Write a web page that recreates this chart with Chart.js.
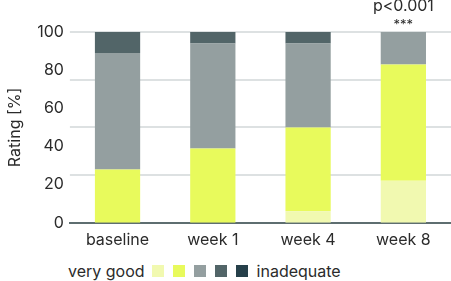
<!DOCTYPE html>
<html>
<head>
<meta charset="utf-8">
<script src="https://cdn.jsdelivr.net/npm/chart.js@4/dist/chart.umd.min.js"></script>
<style>
  body { margin: 0; background: #fff; font-family: Inter, sans-serif; }
  #wrap { position: relative; width: 451px; height: 260px; }
  #legend { position: absolute; left: 68px; top: 261px; height: 19px; display: flex; align-items: center; font-size: 16px; color: #2b2b2b; }
  #legend span.box { display: inline-block; width: 12px; height: 12px; margin-right: 9px; }
  #legend span.txt { margin-right: 7px; }
</style>
</head>
<body>
<div id="wrap"><canvas id="myChart"></canvas></div>
<div id="legend"></div>
<script>
// data
var categories = ["baseline", "week 1", "week 4", "week 8"];
var ratingNames = ["very good", "good", "neutral", "poor", "inadequate"];
var veryGood   = [0, 0, 6, 22];
var good       = [28, 39, 44, 61];
var neutral    = [61, 55, 44, 17];
var poor       = [11, 6, 6, 0];
var inadequate = [0, 0, 0, 0];
var pLabels    = ["", "", "", "p<0.001"];
var starLabels = ["", "", "", "***"];

var colors = ["#f1f9b0", "#e8fa5c", "#949fa0", "#526568", "#26404a"];
var seriesValues = [veryGood, good, neutral, poor, inadequate];

var datasets = [];
for (var i = 0; i < ratingNames.length; i++) {
  datasets.push({
    label: ratingNames[i],
    data: seriesValues[i],
    backgroundColor: colors[i],
    borderWidth: 0,
    barPercentage: 0.475,
    categoryPercentage: 1.0,
    yAxisID: "y"
  });
}

// p-value text over the bars
var sigPlugin = {
  id: "sig",
  afterDatasetsDraw: function(chart) {
    var ctx = chart.ctx;
    var xs = chart.scales.x;
    var ys = chart.scales.y;
    ctx.save();
    ctx.textAlign = "center";
    ctx.fillStyle = "#2b2b2b";
    for (var i = 0; i < categories.length; i++) {
      if (!pLabels[i]) continue;
      var x = xs.getPixelForValue(i);
      var top = ys.getPixelForValue(100);
      ctx.font = "16px Inter, sans-serif";
      ctx.textBaseline = "alphabetic";
      ctx.fillText(pLabels[i], x, top - 21);
      ctx.font = "13px Inter, sans-serif";
      ctx.fillText(starLabels[i], x, top - 3);
    }
    ctx.restore();
  }
};

var ctx = document.getElementById("myChart").getContext("2d");
var mychart = new Chart(ctx, {
  type: "bar",
  data: { labels: categories, datasets: datasets },
  plugins: [sigPlugin],
  options: {
    responsive: true,
    maintainAspectRatio: false,
    animation: false,
    layout: { padding: { top: 32, right: 0, bottom: 2, left: 0 } },
    plugins: { legend: { display: false }, tooltip: { enabled: false } },
    scales: {
      x: {
        stacked: true,
        grid: { display: false, drawTicks: false },
        border: { display: true, color: "#5e6e70", width: 2 },
        ticks: { color: "#2b2b2b", padding: 8, font: { family: "Inter", size: 16 } }
      },
      y: {
        stacked: true,
        min: 0,
        max: 100,
        grid: { display: false, drawTicks: false },
        border: { display: false },
        ticks: { stepSize: 20, color: "#2b2b2b", padding: 6, font: { family: "Inter", size: 16 } },
        title: { display: true, text: "Rating [%]", color: "#2b2b2b", padding: 6, font: { family: "Inter", size: 16 } }
      },
      yGrid: {
        position: "right",
        min: 0,
        max: 100,
        grid: { color: "#dde1e2", lineWidth: 2, drawTicks: false },
        border: { display: false },
        ticks: { display: false, stepSize: 25 }
      }
    }
  }
});

// legend: "very good" [boxes] "inadequate"
var legend = document.getElementById("legend");
var first = document.createElement("span");
first.className = "txt";
first.textContent = ratingNames[0];
legend.appendChild(first);
for (var k = 0; k < colors.length; k++) {
  var b = document.createElement("span");
  b.className = "box";
  b.style.background = colors[k];
  legend.appendChild(b);
}
var last = document.createElement("span");
last.textContent = ratingNames[ratingNames.length - 1];
legend.appendChild(last);
</script>
</body>
</html>
